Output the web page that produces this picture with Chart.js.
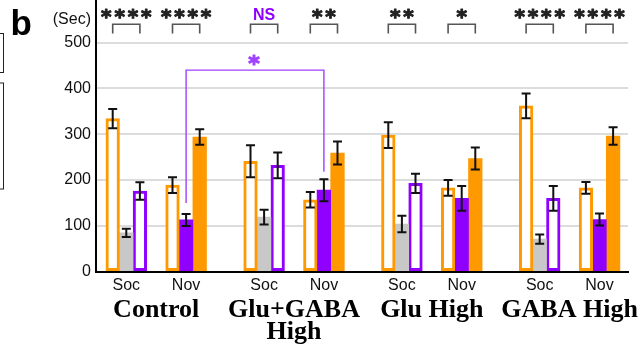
<!DOCTYPE html>
<html><head><meta charset="utf-8">
<script src="https://cdn.jsdelivr.net/npm/chart.js@4.4.1/dist/chart.umd.min.js"></script>
<style>html,body{margin:0;padding:0;background:#fff;overflow:hidden}</style>
</head><body>
<canvas id="c" width="643" height="347"></canvas>
<script>
// ---------- data ----------
const groups = ['Control', 'Glu+GABA\nHigh', 'Glu High', 'GABA High'];
const conditions = ['Soc', 'Nov'];
const yTicks = [0, 100, 200, 300, 400, 500];
// Soc cluster (orange outline, gray, purple outline)
const socOrange = [334, 241, 298, 362];
const socOrangeErr = [21, 35, 28, 27];
const socGray = [85, 119, 104, 71];
const socGrayErr = [9, 16, 18, 10];
const socPurple = [176, 232, 193, 160];
const socPurpleErr = [19, 28, 21, 27];
// Nov cluster (orange outline, purple filled, orange filled)
const novOrange = [189, 157, 183, 183];
const novOrangeErr = [17, 17, 17, 13];
const novPurple = [113, 178, 160, 114];
const novPurpleErr = [13, 24, 27, 13];
const novOrangeFill = [294, 259, 247, 296];
const novOrangeFillErr = [17, 25, 24, 19];
// significance labels
const socSig = ['****', 'NS', '**', '****'];
const novSig = ['****', '**', '*', '****'];
const crossSig = '*';

// ---------- styling / layout ----------
const ORANGE = '#ff9900', PURPLE = '#9000ff', GRAY = '#c8c8c8', LPURPLE = '#a040ff';
const GROUP_STEP = 137.8, SUB_STEP = 59.8;
const SANS = '"Liberation Sans", Arial, sans-serif';
const SERIF = '"Liberation Serif", "Times New Roman", serif';

const clusterX = [];
groups.forEach((g, gi) => conditions.forEach((c, ci) => clusterX.push(gi * GROUP_STEP + ci * SUB_STEP)));
const inter = (a, b) => a.flatMap((v, i) => [v, b[i]]);

const seriesVals = [inter(socOrange, novOrange), inter(socGray, novPurple), inter(socPurple, novOrangeFill)];
const seriesErrs = [inter(socOrangeErr, novOrangeErr), inter(socGrayErr, novPurpleErr), inter(socPurpleErr, novOrangeFillErr)];
const alt = (a, b) => clusterX.map((_, i) => i % 2 ? b : a);

const datasets = [
  { data: clusterX.map((x, i) => ({x, y: seriesVals[0][i]})), backgroundColor: '#fff', borderColor: ORANGE, borderWidth: 3, borderSkipped: false },
  { data: clusterX.map((x, i) => ({x, y: seriesVals[1][i]})), backgroundColor: alt(GRAY, PURPLE), borderWidth: 0 },
  { data: clusterX.map((x, i) => ({x, y: seriesVals[2][i]})), backgroundColor: alt('#fff', ORANGE), borderColor: alt(PURPLE, ORANGE), borderWidth: alt(3, 0), borderSkipped: false }
];

function centerText(ctx, txt, cx, cy, font, color, thicken) {
  ctx.font = font; ctx.fillStyle = color; ctx.textAlign = 'center'; ctx.textBaseline = 'alphabetic';
  const m = ctx.measureText(txt);
  const base = cy - (m.actualBoundingBoxDescent - m.actualBoundingBoxAscent) / 2;
  ctx.fillText(txt, cx, base);
  if (thicken) { ctx.strokeStyle = color; ctx.lineWidth = thicken; ctx.lineJoin = 'round'; ctx.strokeText(txt, cx, base); }
}
function stars(ctx, txt, cx, cy, color, size, pitch) {
  const n = txt.length;
  for (let k = 0; k < n; k++) centerText(ctx, txt[k], cx + (k - (n - 1) / 2) * pitch, cy, 'bold ' + size + 'px "DejaVu Sans", sans-serif', color, 1.1);
}

const errPlugin = {
  id: 'err',
  afterDatasetsDraw(chart) {
    const ctx = chart.ctx, y = chart.scales.y;
    ctx.save(); ctx.strokeStyle = '#111'; ctx.lineWidth = 2;
    seriesVals.forEach((vals, di) => {
      chart.getDatasetMeta(di).data.forEach((el, i) => {
        const v = vals[i], e = seriesErrs[di][i];
        const t = y.getPixelForValue(v + e), b = y.getPixelForValue(v - e), x = el.x;
        ctx.beginPath();
        ctx.moveTo(x, t); ctx.lineTo(x, b);
        ctx.moveTo(x - 4.5, t); ctx.lineTo(x + 4.5, t);
        ctx.moveTo(x - 4.5, b); ctx.lineTo(x + 4.5, b);
        ctx.stroke();
      });
    });
    ctx.restore();
  }
};

const annPlugin = {
  id: 'ann',
  afterDraw(chart) {
    const ctx = chart.ctx, y = chart.scales.y, xs = chart.scales.x;
    const m0 = chart.getDatasetMeta(0).data, m1 = chart.getDatasetMeta(1).data, m2 = chart.getDatasetMeta(2).data;
    ctx.save();
    // panel letter and unit
    ctx.fillStyle = '#000'; ctx.font = 'bold 35px ' + SANS; ctx.textAlign = 'left'; ctx.textBaseline = 'alphabetic';
    ctx.fillText('b', 10.5, 35);
    ctx.font = '16px ' + SANS; ctx.textAlign = 'right'; ctx.fillStyle = '#111';
    ctx.fillText('(Sec)', 91, 24);
    // cut-off boxes of neighbouring panel
    ctx.strokeStyle = '#222'; ctx.lineWidth = 1;
    ctx.strokeRect(-5, 33.5, 8.5, 39); ctx.strokeRect(-5, 83, 8.5, 106);
    // significance brackets
    const top = y.getPixelForValue(540), leg = y.getPixelForValue(520), sy = y.getPixelForValue(563);
    const sigs = inter(socSig, novSig);
    sigs.forEach((s, k) => {
      const x1 = m0[k].x, x2 = m2[k].x;
      ctx.strokeStyle = '#555'; ctx.lineWidth = 1.6; ctx.lineJoin = 'miter';
      ctx.beginPath(); ctx.moveTo(x1, leg); ctx.lineTo(x1, top); ctx.lineTo(x2, top); ctx.lineTo(x2, leg); ctx.stroke();
      const cx = (x1 + x2) / 2;
      if (s === 'NS') centerText(ctx, s, cx, sy, 'bold 16px ' + SANS, PURPLE);
      else stars(ctx, s, cx, sy, '#222', 20, 13.3);
    });
    // cross-group comparison (Nov purple, Control vs Glu+GABA High)
    const a = m1[1].x, b = m1[3].x, ct = y.getPixelForValue(440);
    ctx.strokeStyle = LPURPLE; ctx.lineWidth = 1.4; ctx.lineJoin = 'miter';
    ctx.beginPath(); ctx.moveTo(a, y.getPixelForValue(150)); ctx.lineTo(a, ct); ctx.lineTo(b, ct); ctx.lineTo(b, y.getPixelForValue(218)); ctx.stroke();
    stars(ctx, crossSig, (a + b) / 2 - 1, y.getPixelForValue(463), LPURPLE, 22, 13);
    // group labels
    ctx.fillStyle = '#000'; ctx.textAlign = 'center'; ctx.textBaseline = 'alphabetic'; ctx.font = 'bold 26px ' + SERIF;
    groups.forEach((g, gi) => {
      const cx = (xs.getPixelForValue(clusterX[gi * 2]) + xs.getPixelForValue(clusterX[gi * 2 + 1])) / 2;
      g.split('\n').forEach((line, li) => ctx.fillText(line, cx, 316.5 + li * 22));
    });
    ctx.restore();
  }
};

new Chart(document.getElementById('c'), {
  type: 'bar',
  data: { datasets },
  plugins: [errPlugin, annPlugin],
  options: {
    responsive: false, animation: false, devicePixelRatio: 1,
    barThickness: 13.6, grouped: true,
    layout: { padding: { left: 0, right: 15, top: 0, bottom: 0 } },
    plugins: { legend: { display: false }, tooltip: { enabled: false } },
    scales: {
      x: {
        type: 'linear', min: -30.3, max: 501.7, offset: false, bounds: 'data',
        grid: { display: false, drawTicks: false },
        border: { color: '#000', width: 2 },
        afterBuildTicks: s => { s.ticks = clusterX.map(v => ({ value: v })); },
        afterFit: s => { s.height = 75.3; s.paddingLeft = 0; s.paddingRight = 0; },
        ticks: { autoSkip: false, maxRotation: 0, padding: 4, color: '#111', font: { family: SANS, size: 16 },
          callback: (v, i) => conditions[i % 2] }
      },
      y: {
        min: 0, max: 593, bounds: 'data',
        grid: { color: '#dcdcdc', lineWidth: 2, drawTicks: false },
        border: { color: '#000', width: 2 },
        afterBuildTicks: s => { s.ticks = yTicks.map(v => ({ value: v })); },
        afterFit: s => { s.width = 96; s.paddingTop = 0; s.paddingBottom = 0; },
        ticks: { padding: 5, color: '#111', font: { family: SANS, size: 16 }, callback: v => String(v) }
      }
    }
  }
});
</script>
</body></html>
